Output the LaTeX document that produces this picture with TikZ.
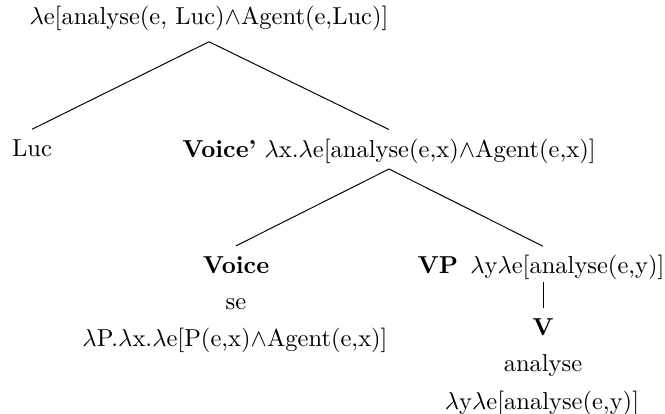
\documentclass[tikz,border=0pt]{standalone}
\usepackage{amsmath,amssymb}
\usetikzlibrary{
		calc,
		positioning
	}
\tikzset{
		lbl/.style={inner sep=0pt, outer ysep=3.7pt, text height=7.5pt, text depth=2.5pt, anchor=base}
	}

\begin{document}
\begin{tikzpicture}[x=0.408pt, y=-0.408pt]
          \useasboundingbox (0,0) rectangle (665,413);

          % labels
          \node[lbl] (top) at (209,24.1) {$\lambda$e[analyse(e, Luc)$\wedge$Agent(e,Luc)]};
          \node[lbl] (luc) at (32,156.7) {Luc};
          \node[lbl] (vbar) at (389,157) {\textbf{Voice'} $\lambda$x.$\lambda$e[analyse(e,x)$\wedge$Agent(e,x)]};
          \node[lbl] (voice) at (236,273.3) {\textbf{Voice}};
          \node[lbl] (se) at (236,309.3) {se};
          \node[lbl] (sesem) at (235,346) {$\lambda$P.$\lambda$x.$\lambda$e[P(e,x)$\wedge$Agent(e,x)]};
          \node[lbl] (vp) at (541,273.7) {\textbf{VP}\hspace{5pt}$\lambda$y$\lambda$e[analyse(e,y)]};
          \node[lbl] (v) at (543,335.3) {\textbf{V}};
          \node[lbl] (an) at (543,371) {analyse};
          \node[lbl] (ansem) at (542,409) {$\lambda$y$\lambda$e[analyse(e,y)]};

          % forks
          \coordinate[below=7.2pt of top.base] (topfork);
          \coordinate[below=4.9pt of vbar.base] (vbarfork);
          \coordinate[below=3.4pt of vp.base -| v.north] (vpfork);

          % branches
          \draw (topfork) -- (luc.north);
          \draw (topfork) -- (vbar.north);
          \draw (vbarfork) -- (voice.north);
          \draw (vbarfork) -- (vp.north -| v.north);
          \draw (vpfork) -- (v.north);

          \end{tikzpicture}
\end{document}
